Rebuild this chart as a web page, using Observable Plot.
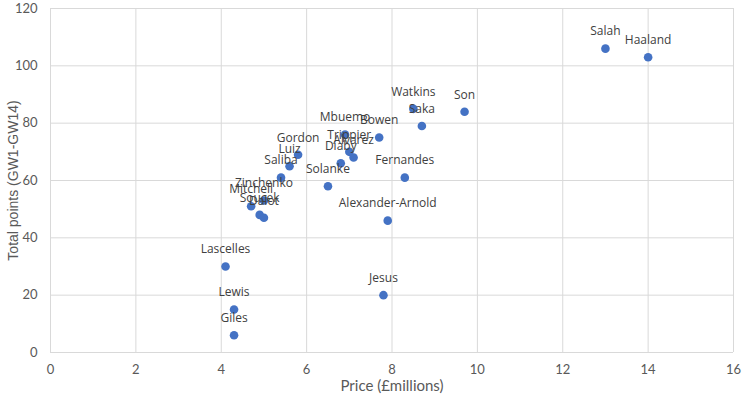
<!DOCTYPE html>
<html>
<head>
<meta charset="utf-8">
<script src="https://cdn.jsdelivr.net/npm/d3@7"></script>
<script src="https://cdn.jsdelivr.net/npm/@observablehq/plot@0.6"></script>
<style>
  body { margin: 0; background: #fff; }
  #chart svg { display: block; }
  #chart svg [aria-label="y-axis label"] text { font-family: 'Liberation Sans', Arial, sans-serif; font-size: 14px; }
  #chart svg [aria-label="x-axis label"] text { font-size: 15px; }
</style>
</head>
<body>
<div id="chart"></div>
<script>
const players = ["Salah","Haaland","Son","Watkins","Saka","Bowen","Mbuemo","Trippier","Alvarez","Diaby","Gordon","Luiz","Saliba","Solanke","Fernandes","Zinchenko","Mitchell","Soucek","Dalot","Alexander-Arnold","Lascelles","Lewis","Giles","Jesus"];
const prices = [13.0,14.0,9.7,8.5,8.7,7.7,6.9,7.0,7.1,6.8,5.8,5.6,5.4,6.5,8.3,5.0,4.7,4.9,5.0,7.9,4.1,4.3,4.3,7.8];
const points = [106,103,84,85,79,75,76,70,68,66,69,65,61,58,61,53,51,48,47,46,30,15,6,20];
const xTicks = [0,2,4,6,8,10,12,14,16];
const yTicks = [0,20,40,60,80,100,120];

const data = players.map((name, i) => ({name, price: prices[i], pts: points[i]}));

const font = "Lato, 'Open Sans', sans-serif";

const chart = Plot.plot({
  width: 745,
  height: 395,
  marginLeft: 50,
  marginRight: 12,
  marginTop: 8,
  marginBottom: 43,
  style: {fontFamily: font, fontSize: "13px", color: "#595959", background: "#fff"},
  x: {domain: [0, 16], ticks: xTicks, label: null},
  y: {domain: [0, 120], ticks: yTicks, label: null},
  marks: [
    Plot.gridX(xTicks, {stroke: "#d9d9d9", strokeOpacity: 1}),
    Plot.gridY(yTicks, {stroke: "#d9d9d9", strokeOpacity: 1}),
    Plot.axisX({ticks: xTicks, tickSize: 0, tickPadding: 12, fontSize: 13, label: "Price (£millions)", labelAnchor: "center", labelOffset: 38, labelArrow: "none"}),
    Plot.axisY({ticks: yTicks, tickSize: 0, tickPadding: 13, fontSize: 13, label: "Total points (GW1-GW14)", labelAnchor: "center", labelOffset: 42, labelArrow: "none"}),
    Plot.dot(data, {x: "price", y: "pts", r: 4.3, fill: "#4472C4", stroke: "none"}),
    Plot.text(data, {x: "price", y: "pts", text: "name", dy: -17, fill: "#404040", fontSize: 12, fontFamily: "'Open Sans', sans-serif"})
  ]
});
document.getElementById("chart").append(chart);
</script>
</body>
</html>
